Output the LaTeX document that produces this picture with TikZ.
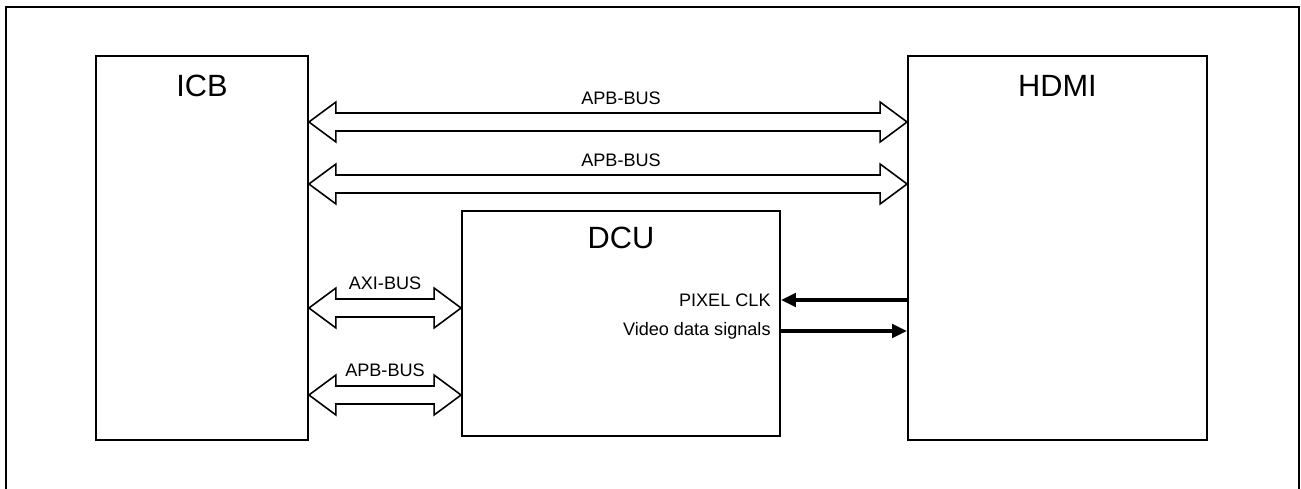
\documentclass[tikz,border=0pt]{standalone}
\usepackage{fontspec}
\setmainfont{Liberation Sans}
\usetikzlibrary{arrows.meta,positioning,calc}

% hollow double-headed bus arrow between two named points
\newcommand\busarrow[2]{%
  \draw[bus] (#1) -- ++(27,-20) -- ++(0,11) -- ($(#2)+(-27,-9)$) -- ++(0,-11)
    -- (#2) -- ++(-27,20) -- ++(0,-11) -- ($(#1)+(27,9)$) -- ++(0,11) -- cycle;}

\begin{document}
\begin{tikzpicture}[x=0.02cm, y=-0.02cm,
      blk/.style={draw, line width=1.1pt, inner sep=0pt},
      title/.style={font=\fontsize{17.5}{20}\selectfont, anchor=base, inner sep=0pt},
      lbl/.style={font=\fontsize{10.3}{12}\selectfont, inner sep=0pt},
      bus/.style={draw, line width=0.9pt, fill=white, line join=miter},
      sig/.style={line width=2.3pt, -{Triangle[length=8.5pt, width=7.6pt]}}]
    \path[use as bounding box, clip] (0,0) rectangle (1301,489);
    \draw[line width=1.1pt] (6,495) -- (6,7) -- (1299,7) -- (1299,495);

    \node[blk, minimum width=4.24cm, minimum height=7.68cm] (icb) at (202,248) {};
    \node[blk, minimum width=5.98cm, minimum height=7.68cm] (hdmi) at (1057.5,248) {};
    \node[blk, minimum width=6.36cm, minimum height=4.5cm] (dcu) at (621,323.5) {};
    \node[title] (icbt) at ($(icb.north)+(0,41)$) {ICB};
    \node[title] (hdmit) at ($(hdmi.north)+(0,41)$) {HDMI};
    \node[title] (dcut) at ($(dcu.north)+(0,38)$) {DCU};

    % buses
    \coordinate (b1l) at (icb.east |- 0,122);
    \coordinate (b1r) at (hdmi.west |- 0,122);
    \coordinate (b2l) at (icb.east |- 0,184);
    \coordinate (b2r) at (hdmi.west |- 0,184);
    \coordinate (b3l) at (icb.east |- 0,308);
    \coordinate (b3r) at (dcu.west |- 0,308);
    \coordinate (b4l) at (icb.east |- 0,395);
    \coordinate (b4r) at (dcu.west |- 0,395);
    \busarrow{b1l}{b1r}
    \busarrow{b2l}{b2r}
    \busarrow{b3l}{b3r}
    \busarrow{b4l}{b4r}
    \node[lbl] (apb1) at ($(b1l)!0.5!(b1r)+(13,-24)$) {APB-BUS};
    \node[lbl] (apb2) at ($(b2l)!0.5!(b2r)+(13,-24)$) {APB-BUS};
    \node[lbl] (axi) at ($(b3l)!0.5!(b3r)+(0,-25)$) {AXI-BUS};
    \node[lbl] (apb3) at ($(b4l)!0.5!(b4r)+(0,-25)$) {APB-BUS};

    % signals
    \node[lbl, anchor=east, xshift=-0.2cm] (pclk) at (dcu.east |- 0,300) {PIXEL CLK};
    \node[lbl, anchor=east, xshift=-0.2cm] (vds) at (dcu.east |- 0,331) {Video data signals};
    \draw[sig] (hdmi.west |- pclk) -- (dcu.east |- pclk);
    \draw[sig] (dcu.east |- vds) -- (hdmi.west |- vds);
\end{tikzpicture}
\end{document}
